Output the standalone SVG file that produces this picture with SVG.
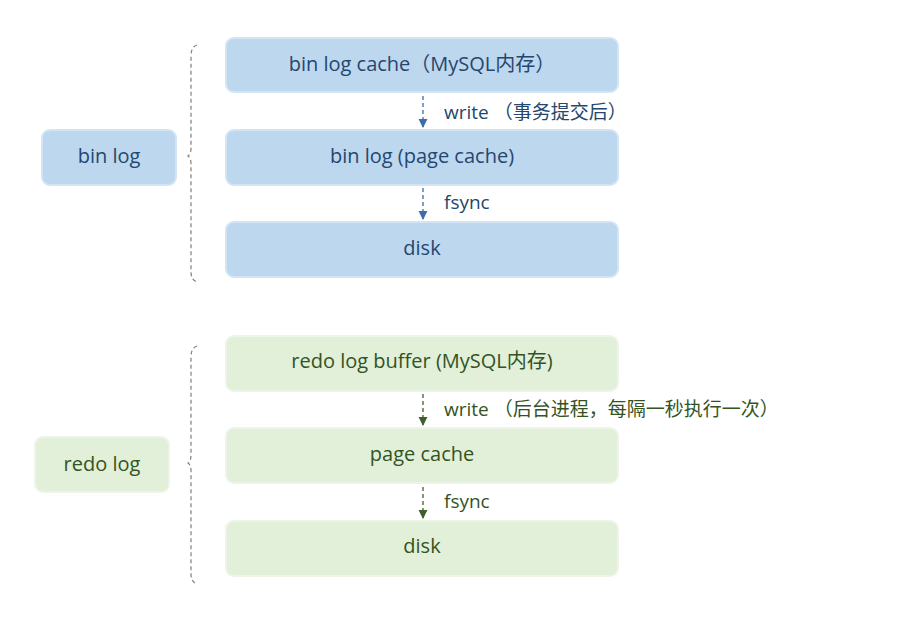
<svg xmlns="http://www.w3.org/2000/svg" width="903" height="624" viewBox="0 0 903 624">
<defs>
<style>
.bbox{fill:#bdd7ee;stroke:#d3e5f4;stroke-width:2}
.gbox{fill:#e2efd9;stroke:#edf5e8;stroke-width:2}
.bt{fill:#24476e;font-family:"Open Sans","Noto Sans CJK SC",sans-serif;font-size:20px;text-anchor:middle;dominant-baseline:central}
.gt{fill:#33541f;font-family:"Open Sans","Noto Sans CJK SC",sans-serif;font-size:20px;text-anchor:middle;dominant-baseline:central}
.bl{fill:#24476e;font-family:"Open Sans","Noto Sans CJK SC",sans-serif;font-size:19px;dominant-baseline:central}
.gl{fill:#33541f;font-family:"Open Sans","Noto Sans CJK SC",sans-serif;font-size:19px;dominant-baseline:central}
.bc{stroke:#3a6ea5;stroke-width:1.3;stroke-dasharray:4 3;fill:none}
.gc{stroke:#3f5f2a;stroke-width:1.3;stroke-dasharray:4 3;fill:none}
.brace{stroke:#7f7f7f;stroke-width:1.2;stroke-dasharray:4 3;fill:none}
</style>
<marker id="ab" viewBox="0 0 10 10" refX="9" refY="5" markerWidth="7" markerHeight="7" orient="auto"><path d="M0,0 L10,5 L0,10 z" fill="#3a6ea5"/></marker>
<marker id="ag" viewBox="0 0 10 10" refX="9" refY="5" markerWidth="7" markerHeight="7" orient="auto"><path d="M0,0 L10,5 L0,10 z" fill="#3f5f2a"/></marker>
</defs>
<rect width="903" height="624" fill="#ffffff"/>

<g id="binlog-label"><rect class="bbox" x="42" y="130" width="134" height="55" rx="8"/><text class="bt" x="109" y="155">bin log</text></g>
<g id="binlog-cache"><rect class="bbox" x="226" y="38" width="392" height="54" rx="8"/><text class="bt" x="422" y="63">bin log cache（MySQL内存）</text></g>
<g id="binlog-page"><rect class="bbox" x="226" y="130" width="392" height="55" rx="8"/><text class="bt" x="422" y="155">bin log (page cache)</text></g>
<g id="binlog-disk"><rect class="bbox" x="226" y="222" width="392" height="55" rx="8"/><text class="bt" x="422" y="247">disk</text></g>

<g id="redolog-label"><rect class="gbox" x="35" y="437" width="134" height="55" rx="8"/><text class="gt" x="102" y="463">redo log</text></g>
<g id="redo-buffer"><rect class="gbox" x="226" y="336" width="392" height="55" rx="8"/><text class="gt" x="422" y="360">redo log buffer (MySQL内存)</text></g>
<g id="redo-page"><rect class="gbox" x="226" y="428" width="392" height="55" rx="8"/><text class="gt" x="422" y="453">page cache</text></g>
<g id="redo-disk"><rect class="gbox" x="226" y="521" width="392" height="55" rx="8"/><text class="gt" x="422" y="545">disk</text></g>

<g id="connectors">
<path class="brace" d="M197,45 Q191,47 191,56 L191,148 Q191,154 188,156 Q191,158 191,164 L191,272 Q191,280 197,282"/>
<path class="brace" d="M197,346 Q191,348 191,357 L191,455 Q191,461 188,463 Q191,465 191,471 L191,574 Q191,582 197,584"/>
<line class="bc" x1="423" y1="96" x2="423" y2="127" marker-end="url(#ab)"/>
<line class="bc" x1="423" y1="188" x2="423" y2="219" marker-end="url(#ab)"/>
<line class="gc" x1="423" y1="394" x2="423" y2="425" marker-end="url(#ag)"/>
<line class="gc" x1="423" y1="487" x2="423" y2="518" marker-end="url(#ag)"/>
<text class="bl" x="444" y="112">write （事务提交后）</text>
<text class="bl" x="444" y="202">fsync</text>
<text class="gl" x="444" y="409">write （后台进程，每隔一秒执行一次）</text>
<text class="gl" x="444" y="501">fsync</text>
</g>
</svg>
